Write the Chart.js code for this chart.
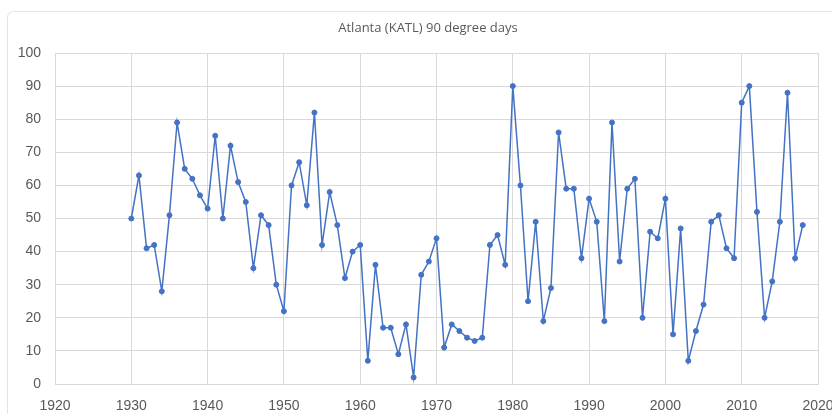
<!DOCTYPE html>
<html>
<head>
<meta charset="utf-8">
<script src="https://cdn.jsdelivr.net/npm/chart.js@4/dist/chart.umd.min.js"></script>
<style>
  html, body { margin: 0; padding: 0; background: #ffffff; }
  #wrap { position: relative; width: 832px; height: 414px; }
</style>
</head>
<body>
<div id="wrap"><canvas id="c" width="832" height="414"></canvas></div>
<script>
const title = "Atlanta (KATL) 90 degree days";
const years = [1930,1931,1932,1933,1934,1935,1936,1937,1938,1939,
               1940,1941,1942,1943,1944,1945,1946,1947,1948,1949,
               1950,1951,1952,1953,1954,1955,1956,1957,1958,1959,
               1960,1961,1962,1963,1964,1965,1966,1967,1968,1969,
               1970,1971,1972,1973,1974,1975,1976,1977,1978,1979,
               1980,1981,1982,1983,1984,1985,1986,1987,1988,1989,
               1990,1991,1992,1993,1994,1995,1996,1997,1998,1999,
               2000,2001,2002,2003,2004,2005,2006,2007,2008,2009,
               2010,2011,2012,2013,2014,2015,2016,2017,2018];
const days = [50,63,41,42,28,51,79,65,62,57,
              53,75,50,72,61,55,35,51,48,30,
              22,60,67,54,82,42,58,48,32,40,
              42,7,36,17,17,9,18,2,33,37,
              44,11,18,16,14,13,14,42,45,36,
              90,60,25,49,19,29,76,59,59,38,
              56,49,19,79,37,59,62,20,46,44,
              56,15,47,7,16,24,49,51,41,38,
              85,90,52,20,31,49,88,38,48];
const xTicks = [1920,1930,1940,1950,1960,1970,1980,1990,2000,2010,2020];
const yTicks = [0,10,20,30,40,50,60,70,80,90,100];

const points = years.map((y, i) => ({ x: y, y: days[i] }));

const frame = {
  id: 'frame',
  beforeDraw(chart) {
    const ctx = chart.ctx;
    ctx.save();
    ctx.fillStyle = '#ffffff';
    ctx.fillRect(0, 0, chart.width, chart.height);
    ctx.strokeStyle = '#e3e3e3';
    ctx.lineWidth = 1;
    ctx.beginPath();
    ctx.roundRect(7.5, 11.5, 900, 500, 6);
    ctx.stroke();
    ctx.restore();
  },
  afterDraw(chart) {
    const ctx = chart.ctx;
    ctx.save();
    ctx.fillStyle = '#595959';
    ctx.font = '13px "Open Sans"';
    ctx.textAlign = 'center';
    ctx.textBaseline = 'middle';
    ctx.fillText(title, 428, 28);
    ctx.restore();
  }
};

new Chart(document.getElementById('c'), {
  type: 'line',
  data: {
    datasets: [{
      data: points,
      borderColor: '#4472C4',
      backgroundColor: '#4472C4',
      borderWidth: 1.5,
      pointRadius: 2.5,
      pointBorderWidth: 1,
      pointBackgroundColor: '#4472C4',
      tension: 0,
      fill: false
    }]
  },
  options: {
    responsive: false,
    animation: false,
    layout: { padding: { left: 16, right: 14, top: 53, bottom: 0 } },
    plugins: {
      legend: { display: false },
      tooltip: { enabled: false },
      title: { display: false }
    },
    scales: {
      x: {
        type: 'linear',
        min: 1920,
        max: 2020,
        afterBuildTicks(axis) { axis.ticks = xTicks.map(v => ({ value: v })); },
        afterFit(scale) { scale.height = 30; scale.paddingLeft = 0; scale.paddingRight = 0; },
        ticks: {
          color: '#595959',
          font: { family: 'Liberation Sans', size: 14 },
          padding: 14,
          maxRotation: 0,
          autoSkip: false,
          callback: v => String(v)
        },
        grid: { color: '#d9d9d9', lineWidth: 1, drawTicks: false },
        border: { color: '#d9d9d9' }
      },
      y: {
        min: 0,
        max: 100,
        afterBuildTicks(axis) { axis.ticks = yTicks.map(v => ({ value: v })); },
        afterFit(scale) { scale.width = 39; scale.paddingTop = 0; scale.paddingBottom = 0; },
        ticks: {
          color: '#595959',
          font: { family: 'Liberation Sans', size: 14 },
          padding: 14
        },
        grid: { color: '#d9d9d9', lineWidth: 1, drawTicks: false },
        border: { display: false }
      }
    }
  },
  plugins: [frame]
});
</script>
</body>
</html>
